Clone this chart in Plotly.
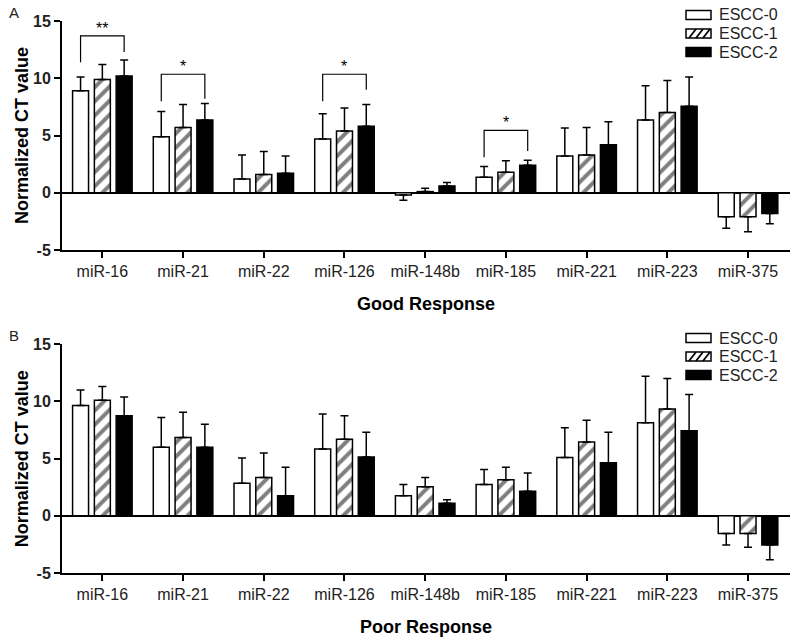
import plotly.graph_objects as go

categories = ["miR-16", "miR-21", "miR-22", "miR-126", "miR-148b",
              "miR-185", "miR-221", "miR-223", "miR-375"]
groups = ["ESCC-0", "ESCC-1", "ESCC-2"]

# Panel A: Good Response (mean values and error magnitudes)
good_escc0 = [8.9, 4.9, 1.2, 4.7, -0.2, 1.35, 3.2, 6.35, -2.1]
good_escc1 = [9.9, 5.7, 1.6, 5.4, 0.1, 1.8, 3.3, 7.0, -2.1]
good_escc2 = [10.2, 6.35, 1.7, 5.8, 0.6, 2.4, 4.2, 7.55, -1.8]
good_err0 = [1.2, 2.2, 2.1, 2.2, 0.45, 0.95, 2.45, 3.0, 1.0]
good_err1 = [1.3, 2.0, 2.0, 2.0, 0.3, 1.0, 2.4, 2.8, 1.3]
good_err2 = [1.4, 1.45, 1.5, 1.9, 0.3, 0.45, 2.0, 2.55, 0.9]

# Panel B: Poor Response
poor_escc0 = [9.65, 6.0, 2.85, 5.85, 1.75, 2.75, 5.1, 8.15, -1.55]
poor_escc1 = [10.1, 6.85, 3.35, 6.7, 2.55, 3.15, 6.45, 9.35, -1.55]
poor_escc2 = [8.75, 6.0, 1.75, 5.15, 1.1, 2.15, 4.65, 7.45, -2.55]
poor_err0 = [1.35, 2.6, 2.2, 3.05, 1.0, 1.3, 2.6, 4.05, 1.0]
poor_err1 = [1.2, 2.2, 2.15, 2.05, 0.8, 1.1, 1.9, 2.65, 1.2]
poor_err2 = [1.65, 2.0, 2.5, 2.15, 0.3, 1.6, 2.65, 3.15, 1.3]

# Significance brackets (panel A): category index, bracket top, left leg end, right leg end, label
sig_cat = [0, 1, 3, 5]
sig_top = [13.7, 10.35, 10.35, 5.45]
sig_left = [11.4, 8.0, 8.0, 3.1]
sig_right = [12.3, 8.2, 9.0, 3.65]
sig_label = ["**", "*", "*", "*"]

y_ticks = [-5, 0, 5, 10, 15]
y_ticktext = ["-5", "0", "5", "10", "15"]

FONT = "Liberation Sans, Arial, sans-serif"
x_idx = list(range(len(categories)))

W, H = 800, 641
ML, MR, MT, MB = 62, 10, 21, 68
PW, PH = W - ML - MR, H - MT - MB


def px_x(px):
    return (px - ML) / PW


def px_y(py):
    return 1 - (py - MT) / PH


styles = [
    dict(color="white", pattern=dict(shape="")),
    dict(color="white", pattern=dict(shape="/", fgcolor="black", bgcolor="white",
                                     size=10, solidity=0.4)),
    dict(color="black", pattern=dict(shape="")),
]

fig = go.Figure()


def add_panel(means, errs, xa, ya):
    for g, (name, m, e, st) in enumerate(zip(groups, means, errs, styles)):
        up = [ev if mv >= 0 else 0 for mv, ev in zip(m, e)]
        down = [0 if mv >= 0 else ev for mv, ev in zip(m, e)]
        fig.add_trace(go.Bar(
            x=x_idx, y=m, name=name, xaxis=xa, yaxis=ya, showlegend=False,
            marker=dict(color=st["color"], pattern=st["pattern"],
                        line=dict(color="black", width=1.5)),
            error_y=dict(type="data", symmetric=False, array=up, arrayminus=down,
                         color="black", thickness=1.5, width=4),
            offsetgroup=str(g),
        ))


add_panel([good_escc0, good_escc1, good_escc2], [good_err0, good_err1, good_err2], "x", "y")
add_panel([poor_escc0, poor_escc1, poor_escc2], [poor_err0, poor_err1, poor_err2], "x2", "y2")

# significance brackets
off = 0.27
for c, top, l, r, lab in zip(sig_cat, sig_top, sig_left, sig_right, sig_label):
    fig.add_shape(type="path", xref="x", yref="y",
                  path=f"M {c-off},{l} L {c-off},{top} L {c+off},{top} L {c+off},{r}",
                  line=dict(color="black", width=1.2))
    fig.add_annotation(x=c, y=top, xref="x", yref="y", text=lab, showarrow=False,
                       yanchor="bottom", yshift=-3,
                       font=dict(family=FONT, size=16, color="black"))


# legends (drawn as boxes + labels, one per panel)
def add_legend(row_centers):
    bx0, bx1 = 686, 711
    for name, yc, k in zip(groups, row_centers, range(3)):
        fill = "black" if k == 2 else "white"
        fig.add_shape(type="rect", xref="paper", yref="paper",
                      x0=px_x(bx0), x1=px_x(bx1), y0=px_y(yc + 4.5), y1=px_y(yc - 4.5),
                      fillcolor=fill, line=dict(color="black", width=1.5))
        if k == 1:
            for sx in [689, 696, 703]:
                fig.add_shape(type="line", xref="paper", yref="paper",
                              x0=px_x(sx), y0=px_y(yc + 4.5),
                              x1=px_x(sx + 7), y1=px_y(yc - 4.5),
                              line=dict(color="black", width=1.8))
        fig.add_annotation(text=name, xref="paper", yref="paper",
                           x=px_x(717), y=px_y(yc), xanchor="left", yanchor="middle",
                           showarrow=False, font=dict(family=FONT, size=16, color="#222"))


add_legend([15, 33.5, 52])
add_legend([338, 356.5, 375])

xaxis_common = dict(
    range=[-0.5, 8.52], tickmode="array", tickvals=x_idx, ticktext=categories,
    showline=True, linecolor="black", linewidth=2, ticks="outside", ticklen=6,
    tickwidth=2, tickcolor="black", showgrid=False, zeroline=False,
    tickfont=dict(family=FONT, size=16, color="#222"),
    title=dict(standoff=18, font=dict(family=FONT, size=18, color="black", weight="bold")),
)
yaxis_common = dict(
    range=[-5, 15], tickmode="array", tickvals=y_ticks, ticktext=y_ticktext,
    showline=True, linecolor="black", linewidth=2, ticks="outside", ticklen=6,
    tickwidth=2, tickcolor="black", showgrid=False,
    zeroline=True, zerolinecolor="black", zerolinewidth=2,
    tickfont=dict(family=FONT, size=16, color="#222", weight="bold"),
    title=dict(text="Normalized CT value", standoff=0,
               font=dict(family=FONT, size=18, color="black", weight="bold")),
)

fig.update_layout(
    width=W, height=H,
    margin=dict(l=ML, r=MR, t=MT, b=MB, autoexpand=False),
    paper_bgcolor="white", plot_bgcolor="white",
    barmode="group", bargap=0.19, bargroupgap=0.267,
    xaxis=dict(**xaxis_common, anchor="y", domain=[0, 1]),
    yaxis=dict(**yaxis_common, anchor="x", domain=[0.5851, 1]),
    xaxis2=dict(**xaxis_common, anchor="y2", domain=[0, 1]),
    yaxis2=dict(**yaxis_common, anchor="x2", domain=[0, 0.4143]),
    showlegend=False,
)
fig.layout.xaxis.title.text = "Good Response"
fig.layout.xaxis2.title.text = "Poor Response"

fig.add_annotation(text="A", xref="paper", yref="paper", x=px_x(14), y=px_y(12),
                   xanchor="center", yanchor="middle", showarrow=False,
                   font=dict(family=FONT, size=15, color="#222"))
fig.add_annotation(text="B", xref="paper", yref="paper", x=px_x(14), y=px_y(335),
                   xanchor="center", yanchor="middle", showarrow=False,
                   font=dict(family=FONT, size=15, color="#222"))

fig.write_html("out.html", config={"displayModeBar": False},
               post_script="document.body.style.margin='0';document.body.style.overflow='hidden';")
